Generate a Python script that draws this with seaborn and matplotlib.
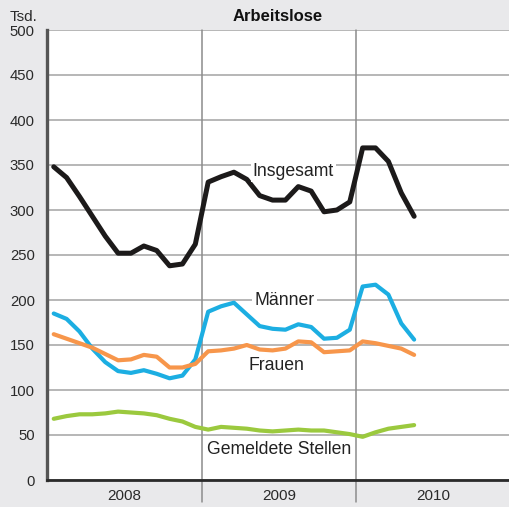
import numpy as np
import pandas as pd
import matplotlib
matplotlib.use("Agg")
import matplotlib.pyplot as plt
import seaborn as sns

# ---- data (Tsd.), monthly Jan 2008 - May 2010 ----
jahre = ["2008", "2009", "2010"]
monat_nr = list(range(1, 30))  # 1 = Jan 2008 ... 29 = May 2010

insgesamt = [348, 336, 315, 293, 271, 252, 252, 260, 255, 238, 240, 262,
             331, 337, 342, 334, 316, 311, 311, 326, 321, 298, 300, 309,
             369, 369, 354, 319, 293]
maenner = [185, 179, 165, 146, 131, 121, 119, 122, 118, 113, 116, 134,
           187, 193, 197, 184, 171, 168, 167, 173, 170, 157, 158, 167,
           215, 217, 206, 174, 156]
frauen = [162, 157, 152, 147, 140, 133, 134, 139, 137, 125, 125, 129,
          143, 144, 146, 150, 145, 144, 146, 154, 153, 142, 143, 144,
          154, 152, 149, 146, 139]
stellen = [68, 71, 73, 73, 74, 76, 75, 74, 72, 68, 65, 59,
           56, 59, 58, 57, 55, 54, 55, 56, 55, 55, 53, 51,
           48, 53, 57, 59, 61]

serien = ["Insgesamt", "Männer", "Frauen", "Gemeldete Stellen"]
farben = {"Insgesamt": "#1c1a1a", "Männer": "#1caee2",
          "Frauen": "#f7964b", "Gemeldete Stellen": "#9bc93e"}
breiten = {"Insgesamt": 3.6, "Männer": 3.0, "Frauen": 3.0, "Gemeldete Stellen": 3.0}

df = pd.DataFrame({
    "monat": monat_nr * 4,
    "wert": insgesamt + maenner + frauen + stellen,
    "reihe": sum([[s] * len(monat_nr) for s in serien], []),
})
df["x"] = df["monat"] - 0.5  # centre of each month

sns.set_theme(style="white")
plt.rcParams["font.family"] = ["Liberation Sans", "DejaVu Sans"]

W, H = 509, 507
bg = "#e9e9eb"
fig = plt.figure(figsize=(W / 100, H / 100), dpi=100, facecolor=bg)
ax = fig.add_axes([47.3 / W, 27 / H, (W - 47.3) / W, 450 / H])
ax.set_facecolor("white")

for s in serien:
    sns.lineplot(data=df[df["reihe"] == s], x="x", y="wert", ax=ax,
                 color=farben[s], linewidth=breiten[s], legend=False, zorder=3)

ax.set_xlim(0, 35.87)
ax.set_ylim(0, 500)
ax.set_xlabel("")
ax.set_ylabel("")

# y axis
ax.set_yticks(np.arange(0, 501, 50))
ax.tick_params(axis="y", length=0, pad=9, labelsize=10.7, labelcolor="#2a2a2a")
ax.yaxis.grid(True, color="#a3a3a3", linewidth=1.1)
ax.set_axisbelow(True)

# x axis: years centred, month ticks inside
ax.set_xticks([6, 18, 30])
ax.set_xticklabels(jahre)
ax.set_xticks(np.arange(1, 36), minor=True)
ax.tick_params(axis="x", which="major", length=0, pad=6.5, labelsize=11, labelcolor="#2a2a2a")
ax.tick_params(axis="x", which="minor", direction="in", length=6, width=0.9, color="#666666")

for xv in [12, 24]:
    ax.axvline(xv, ymin=-0.049, ymax=1, color="#8c8c8c", linewidth=1.1, clip_on=False, zorder=1)

for sp in ["top", "right"]:
    ax.spines[sp].set_visible(False)
ax.spines["left"].set_color("#555555")
ax.spines["left"].set_linewidth(2.4)
ax.spines["bottom"].set_color("#2a2a2a")
ax.spines["bottom"].set_linewidth(2.0)

box = dict(facecolor="white", edgecolor="none", pad=1.5)
ax.text(19.12, 337.8, "Insgesamt", ha="center", va="baseline", fontsize=12.7, color="#222222", bbox=box, zorder=5)
ax.text(18.43, 194.4, "Männer", ha="center", va="baseline", fontsize=12.7, color="#222222", bbox=box, zorder=5)
ax.text(17.79, 122.2, "Frauen", ha="center", va="baseline", fontsize=12.7, color="#222222", bbox=box, zorder=5)
ax.text(17.99, 28.9, "Gemeldete Stellen", ha="center", va="baseline", fontsize=12.7, color="#222222", bbox=box, zorder=5)

fig.text(278 / W, 1 - 20.7 / H, "Arbeitslose", ha="center", va="baseline",
         fontsize=12, fontweight="bold", color="#111111")
fig.text(37.7 / W, 1 - 20.7 / H, "Tsd.", ha="right", va="baseline",
         fontsize=11, color="#2a2a2a")

fig.savefig("out.png", dpi=100, facecolor=bg)
